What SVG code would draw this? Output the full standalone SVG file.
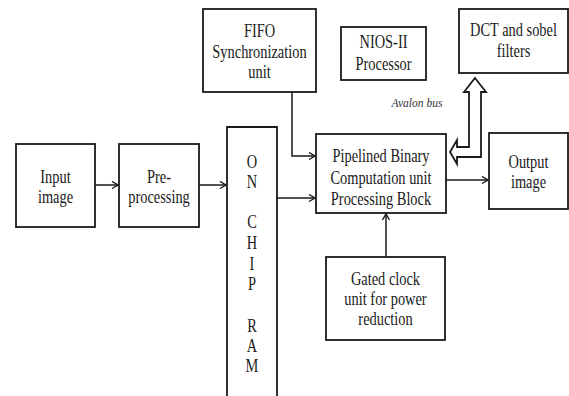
<svg xmlns="http://www.w3.org/2000/svg" width="569" height="396" viewBox="0 0 569 396">
<style>
  .box{fill:#fff;stroke:#1a1a1a;stroke-width:1.8}
  .t{font-family:"Liberation Serif","Times New Roman",serif;font-size:18px;fill:#1a1a1a;text-anchor:middle}
  .c{fill:none;stroke:#1a1a1a;stroke-width:1.5}
  .it{font-family:"Liberation Serif","Times New Roman",serif;font-style:italic;font-size:11.5px;fill:#333;text-anchor:middle}
</style>
<defs>
  <marker id="arr" markerUnits="userSpaceOnUse" markerWidth="10" markerHeight="10" refX="7" refY="4" orient="auto">
    <path d="M1,0.5 L7,4 L1,7.5" fill="none" stroke="#1a1a1a" stroke-width="1.4"/>
  </marker>
</defs>
<rect width="569" height="396" fill="#fff"/>

<g id="connectors">
  <line class="c" x1="95" y1="185" x2="118" y2="185" marker-end="url(#arr)"/>
  <line class="c" x1="199" y1="185" x2="226" y2="185" marker-end="url(#arr)"/>
  <line class="c" x1="277" y1="198" x2="315" y2="198" marker-end="url(#arr)"/>
  <polyline class="c" points="292,92 292,156 315,156" marker-end="url(#arr)"/>
  <line class="c" x1="446" y1="180" x2="488" y2="180" marker-end="url(#arr)"/>
  <line class="c" x1="386" y1="257" x2="386" y2="214" marker-end="url(#arr)"/>
  <polygon id="avalon-arrow" points="475,78 486,92 481,92 481,157 457,157 457,164 450,152 457,140 457,147 469,147 469,92 464,92" fill="#fff" stroke="#1a1a1a" stroke-width="1.8" stroke-linejoin="miter"/>
  <text class="it" x="417" y="107">Avalon bus</text>
</g>

<g id="input-image">
  <rect class="box" x="16" y="144" width="79" height="83"/>
  <text class="t" transform="translate(55.5 183) scale(0.8 1)">Input</text>
  <text class="t" transform="translate(55.5 203) scale(0.8 1)">image</text>
</g>

<g id="pre-processing">
  <rect class="box" x="119" y="144" width="80" height="83"/>
  <text class="t" transform="translate(159 183) scale(0.8 1)">Pre-</text>
  <text class="t" transform="translate(159 203) scale(0.8 1)">processing</text>
</g>

<g id="on-chip-ram">
  <path class="box" d="M227,397 V127 H277 V397"/>
  <text class="t" transform="translate(252 168) scale(0.8 1)">O</text>
  <text class="t" transform="translate(252 188) scale(0.8 1)">N</text>
  <text class="t" transform="translate(252 228) scale(0.8 1)">C</text>
  <text class="t" transform="translate(252 249) scale(0.8 1)">H</text>
  <text class="t" transform="translate(252 270) scale(0.8 1)">I</text>
  <text class="t" transform="translate(252 290) scale(0.8 1)">P</text>
  <text class="t" transform="translate(252 332) scale(0.8 1)">R</text>
  <text class="t" transform="translate(252 352) scale(0.8 1)">A</text>
  <text class="t" transform="translate(252 372) scale(0.8 1)">M</text>
</g>

<g id="fifo">
  <rect class="box" x="203" y="9" width="113" height="83"/>
  <text class="t" transform="translate(259.5 37) scale(0.8 1)">FIFO</text>
  <text class="t" transform="translate(259.5 58) scale(0.8 1)">Synchronization</text>
  <text class="t" transform="translate(259.5 78) scale(0.8 1)">unit</text>
</g>

<g id="nios">
  <rect class="box" x="341" y="27" width="85" height="53"/>
  <text class="t" transform="translate(383.5 48) scale(0.8 1)">NIOS-II</text>
  <text class="t" transform="translate(383.5 70) scale(0.8 1)">Processor</text>
</g>

<g id="dct">
  <rect class="box" x="459" y="9" width="109" height="64"/>
  <text class="t" transform="translate(513.5 36) scale(0.8 1)">DCT and sobel</text>
  <text class="t" transform="translate(513.5 57) scale(0.8 1)">filters</text>
</g>

<g id="pipelined">
  <rect class="box" x="316" y="134" width="130" height="79"/>
  <text class="t" transform="translate(381 162) scale(0.8 1)">Pipelined Binary</text>
  <text class="t" transform="translate(381 184) scale(0.8 1)">Computation unit</text>
  <text class="t" transform="translate(381 205) scale(0.8 1)">Processing Block</text>
</g>

<g id="output-image">
  <rect class="box" x="489" y="133" width="79" height="76"/>
  <text class="t" transform="translate(528.5 168) scale(0.8 1)">Output</text>
  <text class="t" transform="translate(528.5 188) scale(0.8 1)">image</text>
</g>

<g id="gated-clock">
  <rect class="box" x="326" y="257" width="119" height="83"/>
  <text class="t" transform="translate(385.5 285) scale(0.8 1)">Gated clock</text>
  <text class="t" transform="translate(385.5 305) scale(0.8 1)">unit for power</text>
  <text class="t" transform="translate(385.5 325) scale(0.8 1)">reduction</text>
</g>
</svg>
